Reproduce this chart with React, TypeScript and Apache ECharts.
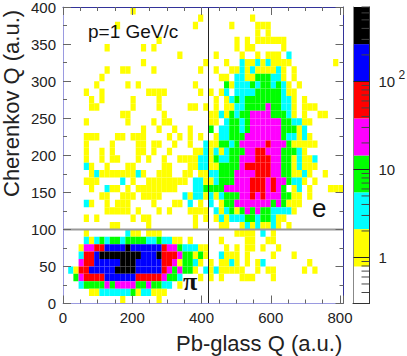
import React, { useEffect, useRef } from "react";
import * as echarts from "echarts";

const binWidthX = 15;
const binHeightY = 10;
const binCountY = 40;
const xMax = 810;
const yMax = 400;

// Occupied cells of the histogram, top row first: "firstColumn:levels" runs.
// Levels: y c g m r b k (colour bands of the palette).
const histogramRows: string[] = [
  "13:y",
  "26:y 36:y",
  "10:y 25:y 32:y 37:yyy",
  "37:y 39:y",
  "18:y 33:y 35:y 37:yyyyyy",
  "8:y 15:y 17:y 33:y 35:yy 42:y",
  "22:y 29:y 34:y 37:y 39:yyy 43:c",
  "15:y 27:y 31:y 34:cyycycyyyy 52:y",
  "8:y 11:yy 17:y 26:y 29:y 32:yy 34:cycyyyycy 44:y",
  "7:y 30:yy 33:cc 35:yy 37:ggg 40:cc 42:y 44:y",
  "6:y 12:y 14:y 25:y 31:gy 33:ccc 36:gcggcgc 43:y 45:y",
  "4:y 7:y 16:yyyy 26:y 28:y 30:yc 33:cccc 37:ggggg 42:c 43:yy",
  "5:y 7:y 13:y 18:y 29:y 31:yc 33:gc 35:ggggggg 42:cc 44:y 46:y",
  "5:yy 13:y 18:y 24:yy 27:y 29:y 31:yy 33:cc 35:gggg 39:m 40:gg 42:cc 44:y 46:yyy",
  "11:yy 19:y 28:yy 30:c 31:y 32:g 33:c 34:gg 36:mmmm 40:ggg 43:c 44:y 46:y 49:yy",
  "4:y 12:y 17:y 19:yy 28:yy 31:cggcg 36:mmmmmm 42:gg 44:cc 46:yy",
  "15:y 18:y 21:y 24:y 28:g 30:ccggcg 36:mmmmmm 42:ggg 45:y 46:c",
  "4:yyy 10:yy 13:yyy 20:y 22:y 24:y 26:y 29:y 30:cc 32:ggg 35:mmmmmmm 42:g 43:cc 45:y 46:c 47:y",
  "4:y 9:y 14:yy 17:yy 21:y 24:y 27:cyy 30:ggcg 34:mmmmm 39:r 40:mmm 43:g 44:yyyyy",
  "4:y 7:y 9:y 14:yy 17:y 20:y 25:yy 27:cycyc 32:ggg 35:mm 37:rr 39:mmm 42:ggg 45:c 46:y",
  "4:y 7:y 9:yy 14:y 16:y 19:y 22:yyyy 26:ccygccgg 34:mmm 37:rrr 40:mm 42:gg 44:y 45:c 46:yy 48:c",
  "4:c 5:y 8:y 12:yy 19:yy 24:yy 26:ccyy 30:gggg 34:m 35:rrrrr 40:mm 42:gg 44:yc 46:yyy",
  "5:yc 7:yyyyyyy 14:cy 18:yyy 23:yy 26:yy 28:cc 30:ggg 33:mmmm 37:rrr 40:mm 42:gg 44:yy 46:cy 50:y",
  "4:yyy 11:c 13:y 16:yyyyyyyy 25:ccyyc 30:ggg 33:mmm 36:rrr 39:m 40:r 41:mm 43:g 44:cc 46:y 48:y",
  "5:y 8:c 9:yy 12:y 14:yyyyyyyy 25:cc 27:gggg 31:mmmmm 36:rrr 39:m 40:r 41:m 42:g 44:y 45:c 47:y 51:yyy",
  "7:yy 11:yyy 15:yyyy 23:c 24:y 25:cc 27:yc 29:yc 31:ggg 34:mm 36:r 37:m 38:r 39:mmm 42:gg 44:yy 47:y",
  "4:cy 8:y 10:yyy 17:y 21:yy 24:c 26:y 28:c 30:y 31:gg 33:mmmmmmm 40:g 41:m 42:g 43:yyy",
  "8:yyyyy 14:y 18:y 20:y 24:yy 26:yy 29:cycgygmgmgg 40:cccc 44:y",
  "4:y 6:y 13:y 15:yy 25:y 27:y 29:ycy 32:ccc 35:gg 37:c 38:gg 40:c 41:yy",
  "9:yy 16:y 25:y 30:yy 34:ycycyycy 43:y",
  "4:y 12:cyy 16:yyy 33:yyyy 38:c 40:y",
  "4:cycgcggcggggccgccyy 24:y 30:y 35:yy 39:yy",
  "3:y 4:mm 6:rr 8:bbbb 12:k 13:bbbbbb 19:r 20:mm 22:g 23:ccc 26:yy 31:y 33:y 35:yy 38:y 41:y",
  "3:c 4:rr 6:b 7:kkkkkkkk 15:bbb 18:k 19:rrr 22:m 23:gg 25:y 26:gy 30:c 31:yyy 35:y 40:y 44:y",
  "3:m 4:rr 6:bbbbb 11:kkk 14:bbbbb 19:rr 21:m 22:y 23:gg 25:c 26:y 28:y 30:yycy 35:y 37:y 38:c 47:y",
  "1:c 2:y 3:rr 5:bbbbb 10:kkkk 14:bbbbb 19:r 20:m 21:g 22:m 23:gg 25:y 27:c 28:yc 30:yyyyy 37:y 39:yy 46:y 48:y",
  "2:g 3:m 4:rrrr 8:bbbbbb 14:rrrrr 19:m 20:gg 22:c 26:y 28:y 30:y 34:yyy 40:y",
  "3:c 4:gggg 8:m 9:g 10:mmmm 14:gg 16:m 17:gg 19:cc 22:y",
  "5:yy 7:cccccc 13:g 14:y 15:cc 17:yyy",
  "11:y 18:y",
];

const levelKeys = ["y", "c", "g", "m", "r", "b", "k"];
const levelColors = ["#ffff00", "#00ffff", "#00ff00", "#ff00ff", "#ff0000", "#0000ff", "#000000"];
const bandEdges = [0.3, 0.79, 2.1, 5.5, 14.4, 38, 100, 265, 700];
const bandColors = ["#ffffff", ...levelColors];
const colorbarMinorTicks = [
  0.4, 0.5, 0.6, 0.7, 0.8, 0.9, 2, 3, 4, 5, 6, 7, 8, 9,
  20, 30, 40, 50, 60, 70, 80, 90, 200, 300, 400, 500, 600, 700,
];

const cutX = 420.2;
const cutY = 100;

const FONT = "'Liberation Sans', Arial, sans-serif";
const TICK = "#666";

function cells(): number[][] {
  const out: number[][] = [];
  histogramRows.forEach((row, r) => {
    row.split(" ").forEach((run) => {
      const [start, levels] = run.split(":");
      levels.split("").forEach((key, i) => {
        out.push([(Number(start) + i) * binWidthX, (binCountY - 1 - r) * binHeightY, levelKeys.indexOf(key)]);
      });
    });
  });
  return out;
}

export default function App() {
  const ref = useRef<HTMLDivElement>(null);
  useEffect(() => {
    const chart = echarts.init(ref.current!, undefined, { renderer: "svg" });
    const commonX = {
      type: "value", gridIndex: 0, min: 0, max: xMax, interval: 200, z: 6,
      axisTick: { show: true, inside: true, length: 8, lineStyle: { color: TICK } },
      minorTick: { show: true, splitNumber: 4, length: 4, lineStyle: { color: TICK } },
      splitLine: { show: false }, minorSplitLine: { show: false },
    };
    const commonY = {
      type: "value", gridIndex: 0, min: 0, max: yMax, interval: 50, z: 6,
      axisTick: { show: true, inside: true, length: 8, lineStyle: { color: TICK } },
      minorTick: { show: true, splitNumber: 2, length: 4, lineStyle: { color: TICK } },
      splitLine: { show: false }, minorSplitLine: { show: false },
    };
    chart.setOption({
      animation: false,
      backgroundColor: "#fff",
      grid: [
        { left: 63, top: 7, width: 280.5, height: 296.5, outerBoundsMode: "none" },
        { left: 353, top: 7, width: 16.5, height: 296.5, outerBoundsMode: "none" },
      ],
      xAxis: [
        {
          ...commonX, position: "bottom",
          axisLine: { show: true, onZero: false, lineStyle: { color: "#9a9ae0", width: 1 } },
          axisLabel: {
            show: true, margin: 6, fontFamily: FONT, fontSize: 15, color: "#222",
            showMaxLabel: false, formatter: (v: number) => (v <= 800 ? String(v) : ""),
          },
        },
        {
          ...commonX, position: "top",
          axisLine: { show: true, onZero: false, lineStyle: { color: "#33339a", width: 1 } },
          axisLabel: { show: false },
        },
        {
          type: "value", gridIndex: 1, min: 0, max: 1, position: "bottom", z: 6,
          axisLine: { show: true, onZero: false, lineStyle: { color: "#333" } },
          axisTick: { show: false }, axisLabel: { show: false }, splitLine: { show: false },
        },
      ],
      yAxis: [
        {
          ...commonY, position: "left",
          axisLine: { show: true, onZero: false, lineStyle: { color: "#9a9ae0", width: 1 } },
          axisLabel: { show: true, margin: 7, fontFamily: FONT, fontSize: 15, color: "#222" },
        },
        {
          ...commonY, position: "right",
          axisLine: { show: true, onZero: false, lineStyle: { color: "#33339a", width: 1 } },
          axisLabel: { show: false },
        },
        {
          type: "log", logBase: 10, gridIndex: 1, min: 0.3, max: 700, position: "right", z: 6,
          axisLine: { show: true, onZero: false, lineStyle: { color: "#333" } },
          axisTick: { show: true, inside: true, length: 16, lineStyle: { color: "#222" } },
          splitLine: { show: false }, minorTick: { show: false },
          axisLabel: {
            show: true, margin: 9, fontFamily: FONT, fontSize: 15, color: "#222",
            showMinLabel: false, showMaxLabel: false,
            formatter: (v: number) => {
              const r = Math.round(v * 1000) / 1000;
              if (r === 1) return "1";
              if (r === 10) return "10";
              if (r === 100) return "10{s| 2}";
              return "";
            },
            rich: { s: { fontFamily: FONT, fontSize: 12, color: "#222", verticalAlign: "bottom", padding: [0, 0, 12, 0] } },
          },
        },
        {
          type: "value", gridIndex: 1, min: 0, max: 1, position: "left", z: 6,
          axisLine: { show: true, onZero: false, lineStyle: { color: "#888" } },
          axisTick: { show: false }, axisLabel: { show: false }, splitLine: { show: false },
        },
      ],
      series: [
        {
          type: "custom", xAxisIndex: 0, yAxisIndex: 0, z: 2, silent: true, clip: true,
          data: cells(),
          encode: { x: 0, y: 1 },
          renderItem: (_: any, api: any) => {
            const x = api.value(0), y = api.value(1);
            const a = api.coord([x, y + binHeightY]);
            const b = api.coord([x + binWidthX, y]);
            return {
              type: "rect",
              shape: { x: a[0], y: a[1], width: b[0] - a[0], height: b[1] - a[1] },
              style: { fill: levelColors[api.value(2)], stroke: null },
            };
          },
        },
        {
          type: "custom", xAxisIndex: 0, yAxisIndex: 0, z: 5, silent: true,
          data: [[cutX, 0, cutX, yMax, 0], [0, cutY, xMax, cutY, 1]],
          encode: { x: 0, y: 1 },
          renderItem: (_: any, api: any) => {
            const a = api.coord([api.value(0), api.value(1)]);
            const b = api.coord([api.value(2), api.value(3)]);
            const horizontal = api.value(4) === 1;
            return {
              type: "line",
              shape: { x1: a[0], y1: a[1], x2: b[0], y2: b[1] },
              style: { stroke: horizontal ? "#999" : "#222", lineWidth: horizontal ? 2 : 1 },
            };
          },
        },
        {
          type: "custom", xAxisIndex: 2, yAxisIndex: 2, z: 2, silent: true,
          data: bandColors.map((_, i) => [0, bandEdges[i], bandEdges[i + 1], i]),
          encode: { x: 0, y: 1 },
          renderItem: (params: any, api: any) => {
            const top = api.coord([0, api.value(2)])[1];
            const bottom = api.coord([0, api.value(1)])[1];
            const cs = params.coordSys;
            return {
              type: "rect",
              shape: { x: cs.x, y: top, width: cs.width, height: bottom - top },
              style: { fill: bandColors[api.value(3)], stroke: null },
            };
          },
        },
        {
          type: "custom", xAxisIndex: 2, yAxisIndex: 2, z: 4, silent: true,
          data: colorbarMinorTicks.map((v) => [1, v]),
          encode: { x: 0, y: 1 },
          renderItem: (params: any, api: any) => {
            const y = api.coord([1, api.value(1)])[1];
            const right = params.coordSys.x + params.coordSys.width;
            return {
              type: "line",
              shape: { x1: right - 8, y1: y, x2: right, y2: y },
              style: { stroke: "#444", lineWidth: 1 },
            };
          },
        },
      ],
      graphic: [
        { type: "text", x: 176, y: 332, z: 10, style: { text: "Pb-glass Q (a.u.)", font: `22px ${FONT}`, fill: "#222" } },
        { type: "text", x: 0, y: 197, z: 10, rotation: Math.PI / 2, style: { text: "Cherenkov Q (a.u.)", font: `22px ${FONT}`, fill: "#222" } },
        { type: "text", x: 88, y: 22, z: 10, style: { text: "p=1 GeV/c", font: `19px ${FONT}`, fill: "#111" } },
        { type: "text", x: 312, y: 195, z: 10, style: { text: "e", font: `26px ${FONT}`, fill: "#111" } },
        { type: "text", x: 183, y: 268, z: 10, style: { text: "π", font: `bold 26px 'Liberation Serif', serif`, fill: "#111" } },
      ],
    });
    return () => chart.dispose();
  }, []);
  return <div ref={ref} style={{ position: "absolute", left: 0, top: 0, width: 407, height: 356 }} />;
}
